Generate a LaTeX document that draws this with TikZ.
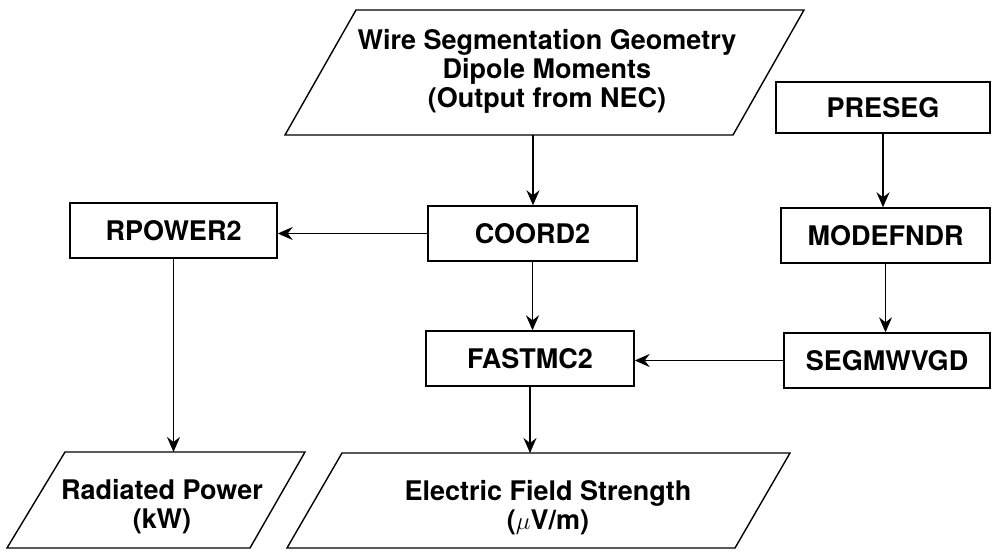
\documentclass[tikz,border=0pt]{standalone}
\usepackage{fontspec}
\setmainfont{TeX Gyre Heros}
\usetikzlibrary{arrows.meta}
\begin{document}
\begin{tikzpicture}[x=1pt,y=-1pt,
  font=\fontsize{27}{29}\selectfont\bfseries,
  line width=1.4pt,
  proc/.style={draw, rectangle, inner sep=0pt, minimum height=55pt},
  txt/.style={align=center, inner sep=0pt},
  io/.style={draw, line join=miter},
  arr/.style={-{Stealth[length=15pt,width=13pt,inset=5pt]}}]
\useasboundingbox (0,0) rectangle (994,551);
% input parallelogram
\draw[io] (356,10) -- (804,10) -- (733,135) -- (285,135) -- cycle;
\node[txt] (nec) at (547,71) {Wire Segmentation Geometry\\Dipole Moments\\(Output from NEC)};
\coordinate (necout) at (533,135);
% output parallelograms
\draw[io] (65,452) -- (305,452) -- (250,548) -- (7,548) -- cycle;
\node[txt] (rad) at (162,507) {Radiated Power\\(kW)};
\coordinate (radin) at (172,452);
\draw[io] (342,453) -- (790,453) -- (735,548) -- (287,548) -- cycle;
\node[txt] (efs) at (548,508) {Electric Field Strength\\($\mu$V/m)};
\coordinate (efsin) at (530,453);
% process boxes
\node[proc, minimum width=207pt] (rpower) at (173.5,230.5) {RPOWER2};
\node[proc, minimum width=209pt] (coord) at (532.5,233.5) {COORD2};
\node[proc, minimum width=208pt] (fast) at (530,358.5) {FASTMC2};
\node[proc, minimum width=214pt, minimum height=51pt] (preseg) at (883,107.5) {PRESEG};
\node[proc, minimum width=209pt] (modef) at (885.5,235.5) {MODEFNDR};
\node[proc, minimum width=206pt] (segm) at (887,360.5) {SEGMWVGD};
% connectors
\draw[arr] (necout) -- (necout |- coord.north);
\draw[arr] (coord.west) -- (coord.west -| rpower.east);
\draw[arr] (coord.south) -- (coord.south |- fast.north);
\draw[arr] (fast.south) -- (fast.south |- efsin);
\draw[arr] (rpower.south) -- (rpower.south |- radin);
\draw[arr] (preseg.south) -- (preseg.south |- modef.north);
\draw[arr] (modef.south) -- (modef.south |- segm.north);
\draw[arr] (segm.west) -- (segm.west -| fast.east);
\end{tikzpicture}
\end{document}
